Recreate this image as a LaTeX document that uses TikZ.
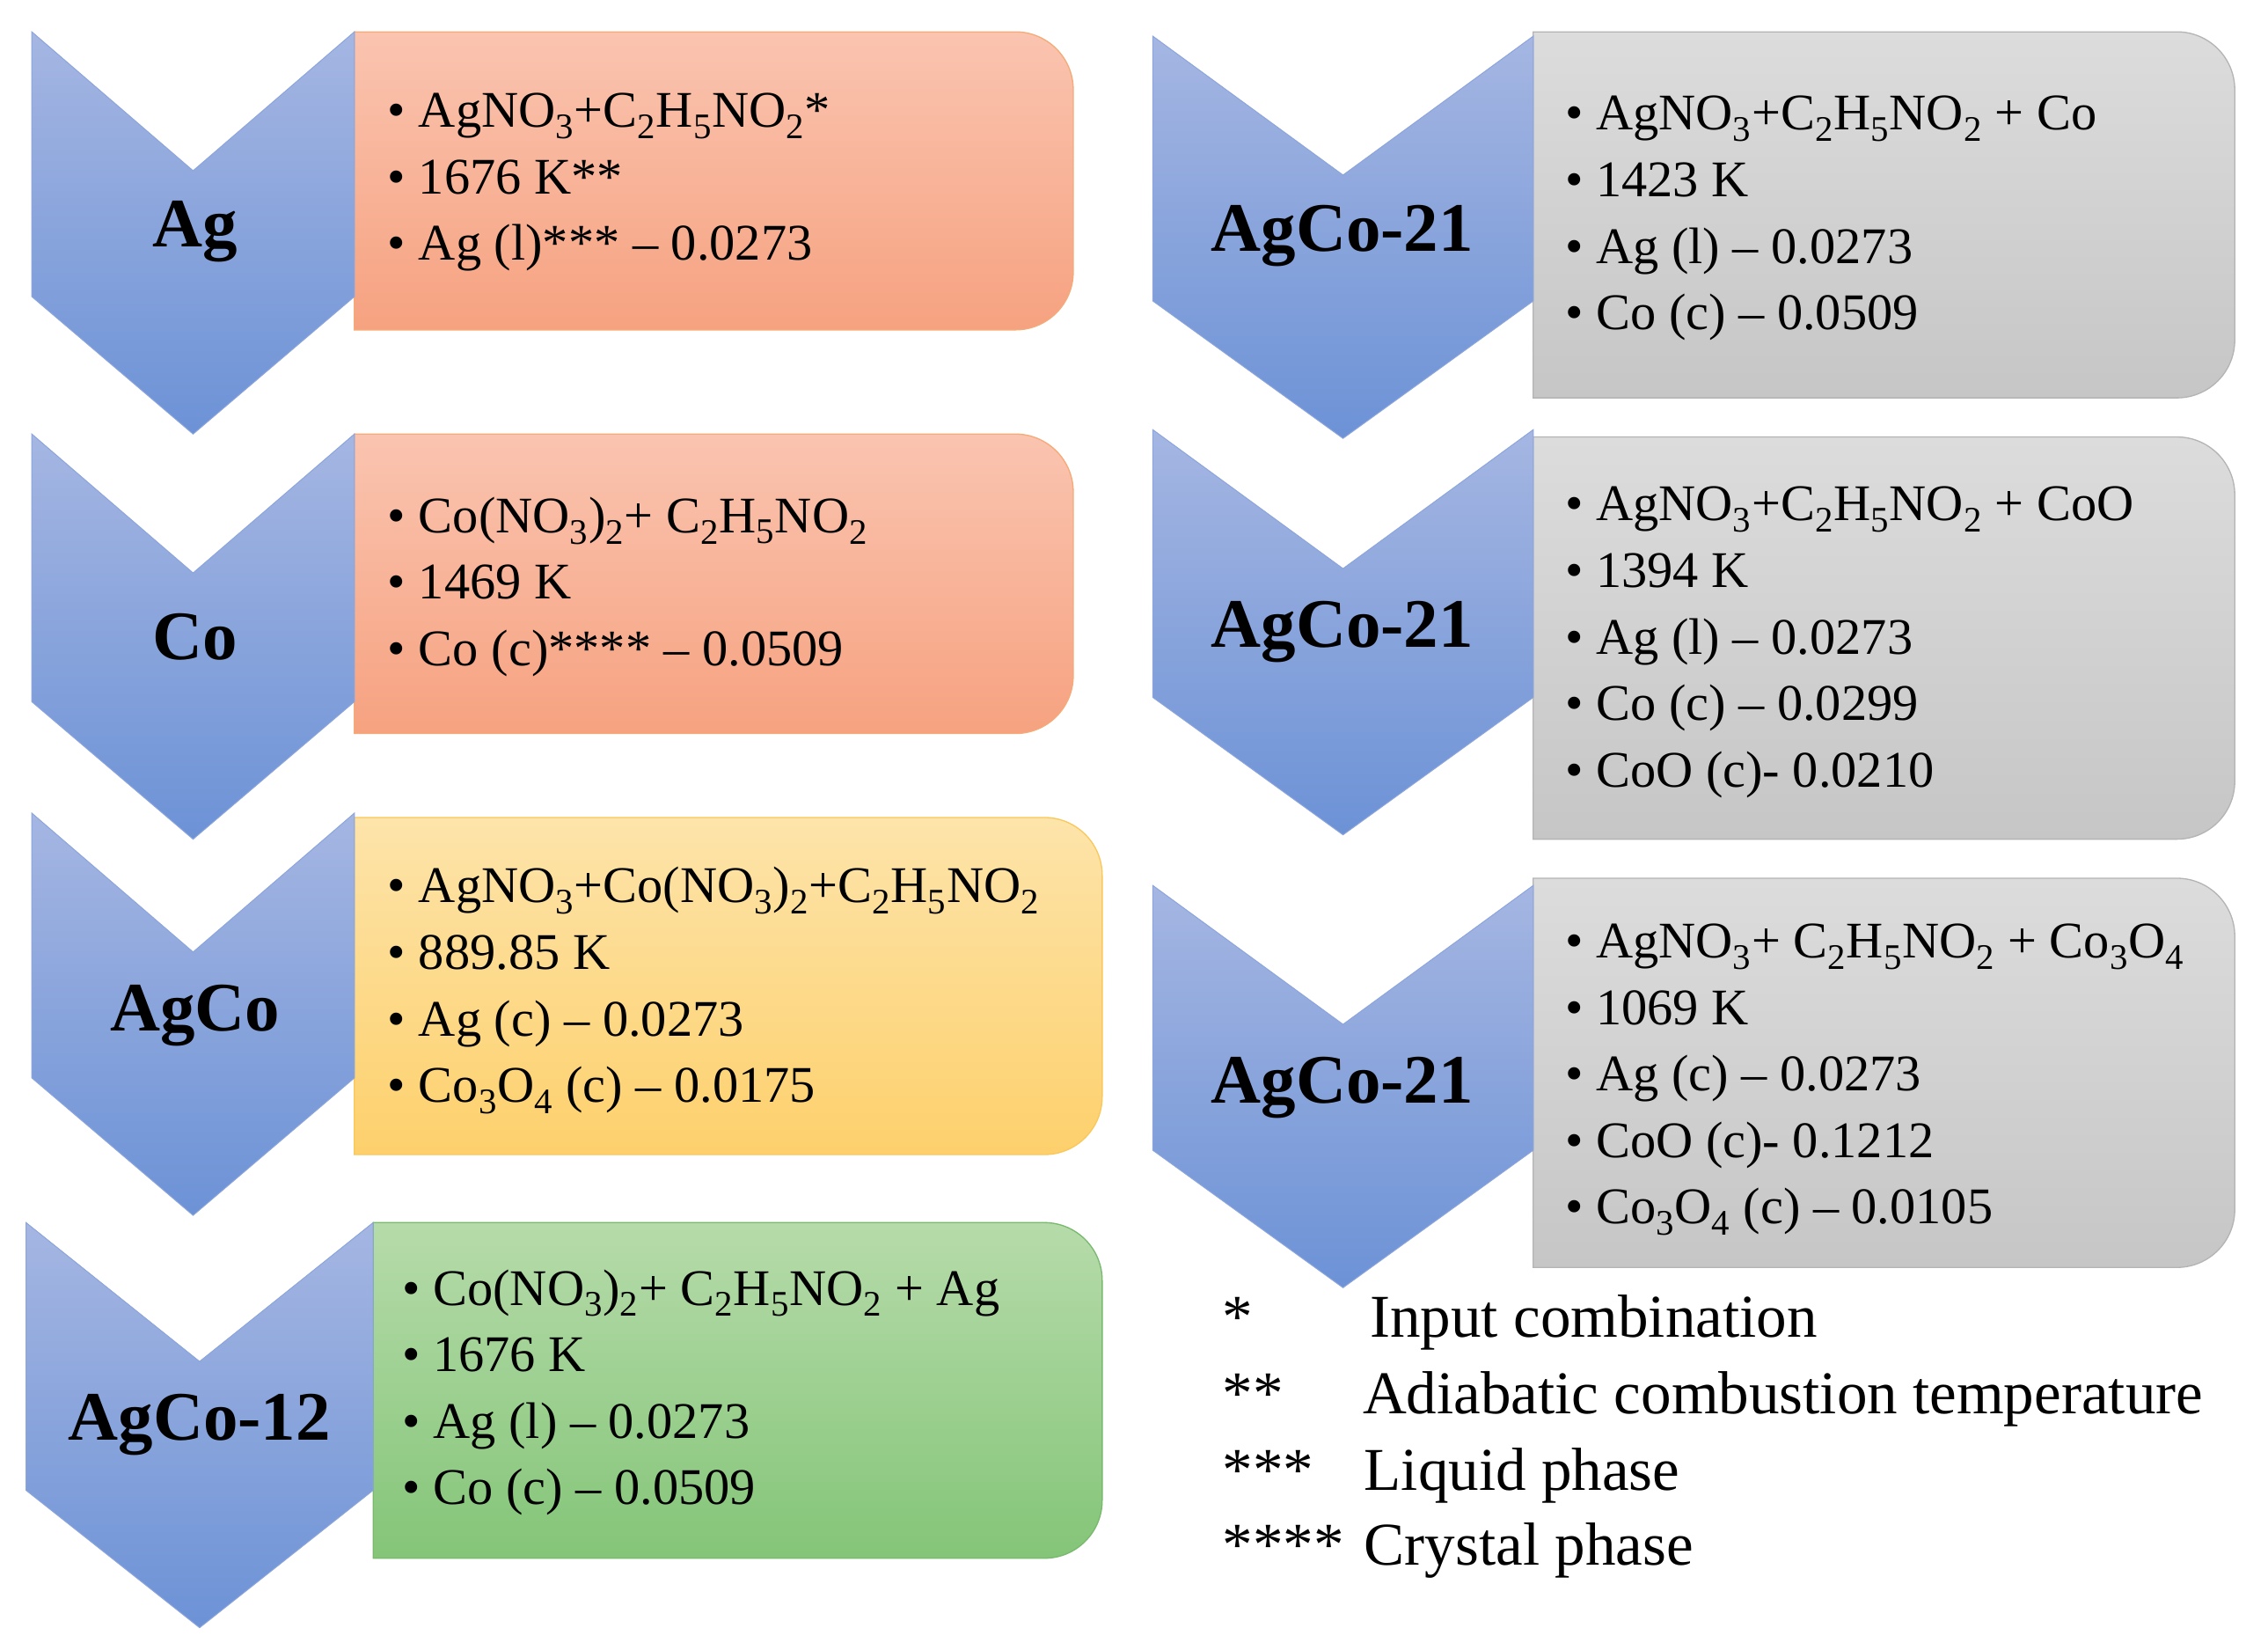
\documentclass[tikz,border=0pt]{standalone}
\usepackage{fontspec}
\setmainfont{Liberation Serif}
\newcommand{\lsub}[1]{\textsubscript{#1}}
\tikzset{
 chev/.style={top color={rgb,255:red,165;green,182;blue,226}, bottom color={rgb,255:red,108;green,146;blue,214}, draw={rgb,255:red,140;green,165;blue,220}, line width=0.6pt},
 peach/.style={top color={rgb,255:red,250;green,196;blue,176}, bottom color={rgb,255:red,246;green,162;blue,128}, draw={rgb,255:red,245;green,170;blue,120}, line width=0.8pt},
 yel/.style={top color={rgb,255:red,253;green,228;blue,170}, bottom color={rgb,255:red,253;green,208;blue,108}, draw={rgb,255:red,250;green,200;blue,90}, line width=0.8pt},
 grn/.style={top color={rgb,255:red,182;green,219;blue,170}, bottom color={rgb,255:red,132;green,197;blue,120}, draw={rgb,255:red,120;green,185;blue,110}, line width=0.8pt},
 gry/.style={top color={rgb,255:red,220;green,220;blue,220}, bottom color={rgb,255:red,198;green,198;blue,198}, draw={rgb,255:red,180;green,180;blue,180}, line width=0.8pt},
 txt/.style={anchor=base west, inner sep=0pt, font=\fontsize{35.5}{40}\selectfont},
 lbl/.style={inner sep=0pt, font=\fontsize{48}{52}\selectfont\bfseries},
 leg/.style={anchor=base west, inner sep=0pt, font=\fontsize{42}{46}\selectfont},
}
\newcommand{\chevron}[4]{%
 \path[chev] (#1,#3) -- ({(#1+#2)/2},#3+96) -- (#2,#3) -- (#2,#4-95) -- ({(#1+#2)/2},#4) -- (#1,#4-95) -- cycle;}
\newcommand{\rbox}[5]{%
 \path[#5] (#1,#3) -- (#2-40,#3) arc[start angle=-90,end angle=0,radius=40] -- (#2,#4-40) arc[start angle=0,end angle=90,radius=40] -- (#1,#4) -- cycle;}
\begin{document}
\begin{tikzpicture}[x=1pt,y=-1pt]
\useasboundingbox (0,0) rectangle (1568,1140);
\fill[white] (0,0) rectangle (1568,1140);
\rbox{245}{742}{22}{228}{peach}
\chevron{22}{245}{22}{300}
\node[lbl] (l1) at (135,160) {Ag};
\node[txt] (a1) at (268,88) {• AgNO\lsub{3}+C\lsub{2}H\lsub{5}NO\lsub{2}*};
\node[txt] (a2) at (268,134) {• 1676 K**};
\node[txt] (a3) at (268,180) {• Ag (l)*** – 0.0273};

\rbox{245}{742}{300}{507}{peach}
\chevron{22}{245}{300}{580}
\node[lbl] (l2) at (135,440) {Co};
\node[txt] (b1) at (268,368) {• Co(NO\lsub{3})\lsub{2}+ C\lsub{2}H\lsub{5}NO\lsub{2}};
\node[txt] (b2) at (268,414) {• 1469 K};
\node[txt] (b3) at (268,460) {• Co (c)**** – 0.0509};

\rbox{245}{762}{565}{798}{yel}
\chevron{22}{245}{562}{840}
\node[lbl] (l3) at (135,702) {AgCo};
\node[txt] (c1) at (268,624) {• AgNO\lsub{3}+Co(NO\lsub{3})\lsub{2}+C\lsub{2}H\lsub{5}NO\lsub{2}};
\node[txt] (c2) at (268,670) {• 889.85 K};
\node[txt] (c3) at (268,716) {• Ag (c) – 0.0273};
\node[txt] (c4) at (268,762) {• Co\lsub{3}O\lsub{4} (c) – 0.0175};

\rbox{258}{762}{845}{1077}{grn}
\chevron{18}{258}{845}{1125}
\node[lbl] (l4) at (138,985) {AgCo-12};
\node[txt] (d1) at (278,902) {• Co(NO\lsub{3})\lsub{2}+ C\lsub{2}H\lsub{5}NO\lsub{2} + Ag};
\node[txt] (d2) at (278,948) {• 1676 K};
\node[txt] (d3) at (278,994) {• Ag (l) – 0.0273};
\node[txt] (d4) at (278,1040) {• Co (c) – 0.0509};

\rbox{1060}{1545}{22}{275}{gry}
\chevron{797}{1060}{25}{303}
\node[lbl] (l5) at (928,163) {AgCo-21};
\node[txt] (e1) at (1082,90) {• AgNO\lsub{3}+C\lsub{2}H\lsub{5}NO\lsub{2} + Co};
\node[txt] (e2) at (1082,136) {• 1423 K};
\node[txt] (e3) at (1082,182) {• Ag (l) – 0.0273};
\node[txt] (e4) at (1082,228) {• Co (c) – 0.0509};

\rbox{1060}{1545}{302}{580}{gry}
\chevron{797}{1060}{297}{577}
\node[lbl] (l6) at (928,437) {AgCo-21};
\node[txt] (f1) at (1082,360) {• AgNO\lsub{3}+C\lsub{2}H\lsub{5}NO\lsub{2} + CoO};
\node[txt] (f2) at (1082,406) {• 1394 K};
\node[txt] (f3) at (1082,452) {• Ag (l) – 0.0273};
\node[txt] (f4) at (1082,498) {• Co (c) – 0.0299};
\node[txt] (f5) at (1082,544) {• CoO (c)- 0.0210};

\rbox{1060}{1545}{607}{876}{gry}
\chevron{797}{1060}{612}{890}
\node[lbl] (l7) at (928,752) {AgCo-21};
\node[txt] (g1) at (1082,662) {• AgNO\lsub{3}+ C\lsub{2}H\lsub{5}NO\lsub{2} + Co\lsub{3}O\lsub{4}};
\node[txt] (g2) at (1082,708) {• 1069 K};
\node[txt] (g3) at (1082,754) {• Ag (c) – 0.0273};
\node[txt] (g4) at (1082,800) {• CoO (c)- 0.1212};
\node[txt] (g5) at (1082,846) {• Co\lsub{3}O\lsub{4} (c) – 0.0105};

\node[leg] (k1) at (845,924) {*};
\node[leg] (k1t) at (947,924) {Input combination};
\node[leg] (k2) at (845,977) {**};
\node[leg] (k2t) at (942,977) {Adiabatic combustion temperature};
\node[leg] (k3) at (845,1030) {***};
\node[leg] (k3t) at (943,1030) {Liquid phase};
\node[leg] (k4) at (845,1082) {****};
\node[leg] (k4t) at (943,1082) {Crystal phase};
\end{tikzpicture}
\end{document}
